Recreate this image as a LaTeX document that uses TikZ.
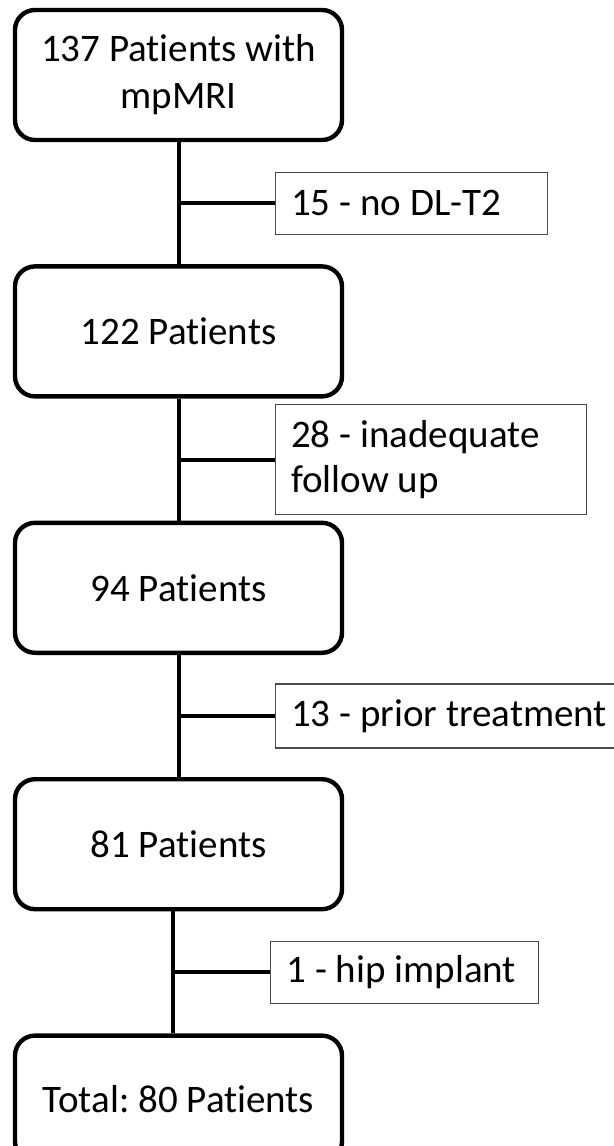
\documentclass[tikz,border=0pt]{standalone}
\usepackage{fontspec}
\setmainfont{Carlito}[Ligatures=NoCommon]
\usetikzlibrary{positioning,calc}
\frenchspacing

\begin{document}
\begin{tikzpicture}[
  box/.style={draw=black, line width=2.2pt, rounded corners=10pt,
              minimum width=163.5pt, minimum height=65pt,
              align=center, inner sep=3pt,
              font=\fontsize{19.5}{23.5}\selectfont},
  excl/.style={draw=black!70, line width=0.6pt, anchor=west,
               minimum height=31pt, align=left,
               inner xsep=8pt, inner ysep=3pt,
               font=\fontsize{19.5}{22.5}\selectfont,
               execute at begin node={\hyphenpenalty=10000\spaceskip=0pt\xspaceskip=0pt}},
  conn/.style={line width=2pt, black},
  node distance=61pt,
]
  \useasboundingbox (0,0) rectangle (307pt,-573pt);
  \node[box] (p1) at (89.25pt,-37.5pt) {137 Patients with\\mpMRI};
  \node[box, below=of p1] (p2) {122 Patients};
  \node[box, below=of p2] (p3) {94 Patients};
  \node[box, below=of p3] (p4) {81 Patients};
  \node[box, below=of p4, minimum height=63pt] (p5) {Total: 80 Patients};
  \coordinate (j4) at ([xshift=-2.75pt]p4.south);
  \node[excl, text width=120pt] (x1)
    at ($(p1.south)!0.5!(p2.north)+(48pt,0)$) {15 - no DL-T2};
  \node[excl, text width=139.5pt, minimum height=55pt] (x2)
    at ($(p2.south)!0.5!(p3.north)+(48pt,0)$) {28 - inadequate\\follow up};
  \node[excl, text width=172pt, minimum height=32pt] (x3)
    at ($(p3.south)!0.5!(p4.north)+(48pt,0)$) {13 - prior treatment};
  \node[excl, text width=118pt] (x4)
    at ($(p4.south)!0.5!(p5.north)+(45.75pt,0)$) {1 - hip implant};
  \draw[conn] (p1) -- (p2);
  \draw[conn] (p2) -- (p3);
  \draw[conn] (p3) -- (p4);
  \draw[conn] (j4) -- (j4 |- p5.north);
  \draw[conn] (x1.west) -- (x1.west -| p1.south);
  \draw[conn] (x2.west) -- (x2.west -| p2.south);
  \draw[conn] (x3.west) -- (x3.west -| p3.south);
  \draw[conn] (x4.west) -- (x4.west -| j4);
\end{tikzpicture}
\end{document}
